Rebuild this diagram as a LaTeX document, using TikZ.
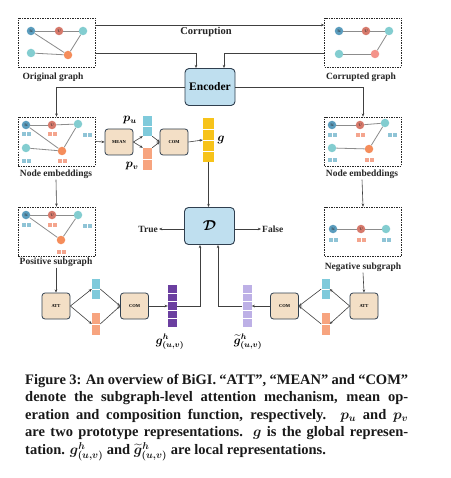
\documentclass[tikz,border=0pt]{standalone}
\usepackage{amsmath}
\usepackage{fontspec}
\setmainfont{Liberation Serif}
\usetikzlibrary{arrows.meta,calc}
\definecolor{ublue}{HTML}{5B9DBE}
\definecolor{vred}{HTML}{D7796B}
\definecolor{tealn}{HTML}{83CDD0}
\definecolor{orangen}{HTML}{F58D5B}
\definecolor{salmon}{HTML}{F4938A}
\definecolor{embb}{HTML}{8FC4D6}
\definecolor{embo}{HTML}{F4A58E}
\definecolor{bigfill}{HTML}{BFDFEF}
\definecolor{bigdraw}{HTML}{2F3F4F}
\definecolor{opfill}{HTML}{F3DFC6}
\definecolor{cyanv}{HTML}{7FCADB}
\definecolor{orangev}{HTML}{F7A47F}
\definecolor{yellowv}{HTML}{F7C31A}
\definecolor{purplev}{HTML}{6B3FA0}
\definecolor{lpurplev}{HTML}{BDB0E6}
\newcommand\myvec[7]{%
  \node[vecn, fill=#7, minimum width=#4, minimum height=#5] (#1) at (#2,#3) {};
  \foreach \k in {1,...,#6}
    \draw[white, line width=0.7pt] ($(#1.north west)!{\k/(#6+1)}!(#1.south west)$) -- ($(#1.north east)!{\k/(#6+1)}!(#1.south east)$);
}
\newcommand\myemb[3]{%
  \fill[#3] (#1-4.5,#2-2) rectangle ++(4,4);
  \fill[#3] (#1+0.5,#2-2) rectangle ++(4,4);
}
\begin{document}
\begin{tikzpicture}[x=1pt,y=-1pt,
  gbox/.style={draw=black!85, dash pattern=on 1.5pt off 1pt, line width=0.6pt, minimum width=77, minimum height=49, inner sep=0},
  lbl/.style={font=\bfseries\fontsize{9.5}{10}\selectfont, text=black!85, inner sep=1pt},
  bigbox/.style={draw=bigdraw, fill=bigfill, rounded corners=4pt, line width=0.9pt, minimum width=50, minimum height=37, inner sep=0},
  opbox/.style={draw=bigdraw, fill=opfill, rounded corners=3pt, line width=0.8pt, minimum width=28, minimum height=26, inner sep=0, font=\bfseries\fontsize{4.5}{5}\selectfont},
  arr/.style={-{Stealth[length=3.2pt,width=2.6pt]}, draw=black!75, line width=0.6pt},
  gn/.style={circle, inner sep=0, minimum size=8.5, font=\bfseries\fontsize{6}{6}\selectfont, text=black!80},
  ge/.style={draw=gray!90, line width=0.8pt},
  vecn/.style={rectangle, inner sep=0, draw=none},
  mlbl/.style={font=\fontsize{12}{12}\selectfont, inner sep=0}
]
\fill[white] (0,0) rectangle (450,478);
\useasboundingbox (0,0) rectangle (450,478);

% ---------- graph boxes ----------
\node[gbox] (orig) at (56.5,42.5) {};
\node[gbox] (corr) at (363,42.5) {};
\node[gbox] (nemL) at (56.5,141.5) {};
\node[gbox] (nemR) at (363,141.5) {};
\node[gbox] (pos) at (56.5,231.5) {};
\node[gbox] (neg) at (363,231.5) {};

\node[lbl] (origL) at (53,77) {Original graph};
\node[lbl] (corrL) at (361,77) {Corrupted graph};
\node[lbl] (nemLL) at (56,174) {Node embeddings};
\node[lbl] (nemRL) at (362,174) {Node embeddings};
\node[lbl] (posL) at (56,262) {Positive subgraph};
\node[lbl] (negL) at (363,267) {Negative subgraph};

% original graph
\node[gn, fill=ublue] (ou) at (31,31) {$u$};
\node[gn, fill=vred] (ov) at (59,31) {$v$};
\node[gn, fill=tealn] (or) at (83,31) {};
\node[gn, fill=tealn] (obl) at (31,53) {};
\node[gn, fill=orangen] (oo) at (68,55) {};
\draw[ge] (ou) -- (ov); \draw[ge] (ov) -- (or); \draw[ge] (ou) -- (oo);
\draw[ge] (obl) -- (oo); \draw[ge] (or) -- (oo);

% corrupted graph
\node[gn, fill=ublue] (cu) at (339,31) {$u$};
\node[gn, fill=vred] (cv) at (366,31) {$v$};
\node[gn, fill=tealn] (cr) at (389,31) {};
\node[gn, fill=tealn] (cbl) at (339,54) {};
\node[gn, fill=salmon] (co) at (375,54) {};
\draw[ge] (cu) -- (cv); \draw[ge] (cv) -- (cr);
\draw[ge] (cbl) -- (co); \draw[ge] (co) -- (cr);

% node embeddings left
\node[gn, fill=ublue] (nu) at (26,125) {$u$};
\node[gn, fill=vred] (nv) at (52,125) {$v$};
\node[gn, fill=tealn] (nr) at (78,124) {};
\node[gn, fill=tealn] (nbl) at (26,148) {};
\node[gn, fill=orangen] (no) at (62,151) {};
\draw[ge] (nu) -- (nv); \draw[ge] (nv) -- (nr); \draw[ge] (nu) -- (no);
\draw[ge] (nbl) -- (no); \draw[ge] (nr) -- (no);
\myemb{26}{134}{embb}\myemb{52}{134}{embo}\myemb{87}{135}{embb}
\myemb{26}{161}{embb}\myemb{62}{161}{embo}

% node embeddings right
\node[gn, fill=ublue] (ru) at (332,125) {$u$};
\node[gn, fill=vred] (rv) at (360,125) {$v$};
\node[gn, fill=tealn] (rr) at (385,123) {};
\node[gn, fill=tealn] (rbl) at (332,148) {};
\node[gn, fill=orangen] (ro) at (369,149) {};
\draw[ge] (ru) -- (rv); \draw[ge] (rv) -- (rr);
\draw[ge] (rbl) -- (ro); \draw[ge] (ro) -- (rr);
\myemb{332}{135}{embb}\myemb{360}{135}{embo}\myemb{392}{135}{embb}
\myemb{332}{160}{embb}\myemb{369}{160}{embo}

% positive subgraph
\node[gn, fill=ublue] (pu) at (26,215) {$u$};
\node[gn, fill=vred] (pv) at (52,215) {$v$};
\node[gn, fill=tealn] (pr) at (78,215) {};
\node[gn, fill=orangen] (po) at (61,240) {};
\draw[ge] (pu) -- (pv); \draw[ge] (pv) -- (pr); \draw[ge] (pu) -- (po); \draw[ge] (pr) -- (po);
\myemb{26}{225}{embb}\myemb{52}{225}{embo}\myemb{87}{226}{embb}\myemb{61}{252}{embo}

% negative subgraph
\node[gn, fill=ublue] (qu) at (333,229) {$u$};
\node[gn, fill=vred] (qv) at (361,229) {$v$};
\node[gn, fill=tealn] (qr) at (386,229) {};
\draw[ge] (qu) -- (qv); \draw[ge] (qv) -- (qr);
\myemb{333}{240}{embb}\myemb{361}{240}{embo}\myemb{386}{240}{embb}

% ---------- main boxes ----------
\node[bigbox, font=\bfseries\fontsize{11.5}{12}\selectfont] (enc) at (210,87) {Encoder};
\node[bigbox, font=\fontsize{14}{14}\selectfont] (D) at (209.5,226) {$\boldsymbol{\mathcal{D}}$};

\node[opbox] (mean) at (119,142) {MEAN};
\node[opbox] (com1) at (174,142) {COM};
\node[opbox] (attL) at (56,306) {ATT};
\node[opbox] (comL) at (134.5,306) {COM};
\node[opbox] (comR) at (284.5,306) {COM};
\node[opbox] (attR) at (364,306) {ATT};

% vectors
\myvec{pu}{147.5}{126}{9}{20}{1}{cyanv}
\myvec{pv}{147.5}{159}{9}{22}{1}{orangev}
\myvec{g}{208.5}{140}{11}{44}{3}{yellowv}
\myvec{lc}{96}{289}{8}{20}{1}{cyanv}
\myvec{lo}{96}{324}{8}{22}{1}{orangev}
\myvec{gh}{172.5}{306}{9}{42}{4}{purplev}
\myvec{gt}{247}{306}{9}{42}{4}{lpurplev}
\myvec{rc}{325.5}{289}{8}{20}{1}{cyanv}
\myvec{ro2}{325.5}{324}{8}{22}{1}{orangev}

\node[mlbl] (puL) at (130,120) {$\boldsymbol{p_u}$};
\node[mlbl] (pvL) at (132,166) {$\boldsymbol{p_v}$};
\node[mlbl] (gL) at (221,140) {$\boldsymbol{g}$};
\node[mlbl] (ghL) at (170,342) {$\boldsymbol{g^h_{(u,v)}}$};
\node[mlbl] (gtL) at (248,342) {$\boldsymbol{\widetilde{g}^h_{(u,v)}}$};

\node[lbl, anchor=east] (true) at (159,229) {True};
\node[lbl, anchor=west] (false) at (261,229) {False};
\node[lbl, font=\bfseries\fontsize{10.5}{11}\selectfont] (corrupt) at (206,32) {Corruption};

% ---------- connectors ----------
\draw[arr] ([yshift=17.5pt]orig.east) -- ([yshift=17.5pt]corr.west);
\draw[arr] ([yshift=-10.5pt]orig.east) -| ([xshift=-14pt]enc.north);
\draw[arr] ([yshift=-10.5pt]corr.west) -| ([xshift=14pt]enc.north);
\draw[arr] (enc.west) -| (nemL.north);
\draw[arr] (enc.east) -| (nemR.north);
\draw[arr] (nemLL.south) -- (pos.north);
\draw[arr] (nemRL.south) -- (neg.north);
\draw[arr] (posL.south) -- (attL.north);
\draw[arr] (negL.south) -- (attR.north);

\draw[arr] (nemL.east) -- (mean.west);
\draw[arr] (mean.east) -- (pu.south west);
\draw[arr] (mean.east) -- (pv.north west);
\draw[arr] (pu.south east) -- (com1.west);
\draw[arr] (pv.north east) -- (com1.west);
\draw[arr] (com1.east) -- (g.west);
\draw[arr] (g.south) -- (g.south |- D.north);

\draw[arr] (D.west |- true.east) -- (true.east);
\draw[arr] (D.east |- false.west) -- (false.west);

\draw[arr] (attL.east) -- (lc.west);
\draw[arr] (attL.east) -- (lo.west);
\draw[arr] (lc.east) -- (comL.west);
\draw[arr] (lo.east) -- (comL.west);
\draw[arr] (comL.east) -- (gh.west);
\draw[arr] (gh.east) -| ([xshift=-9.5pt]D.south);

\draw[arr] (attR.west) -- (rc.east);
\draw[arr] (attR.west) -- (ro2.east);
\draw[arr] (rc.west) -- (comR.east);
\draw[arr] (ro2.west) -- (comR.east);
\draw[arr] (comR.west) -- (gt.east);
\draw[arr] (gt.west) -| ([xshift=8.5pt]D.south);

% ---------- caption ----------
\node[anchor=north west, inner sep=0, align=left, text=black!90,
      font=\bfseries\boldmath\fontsize{14.5}{17.5}\selectfont] (cap) at (25,374) {%
\makebox[383pt][s]{Figure 3: An overview of BiGI. ``ATT'', ``MEAN'' and ``COM''}\\
\makebox[383pt][s]{denote the subgraph-level attention mechanism, mean op-}\\
\makebox[383pt][s]{eration and composition function, respectively. $p_u$ and $p_v$}\\
\makebox[383pt][s]{are two prototype representations. $g$ is the global represen-}\\
tation. $g^h_{(u,v)}$ and $\widetilde{g}^h_{(u,v)}$ are local representations.};
\end{tikzpicture}
\end{document}
